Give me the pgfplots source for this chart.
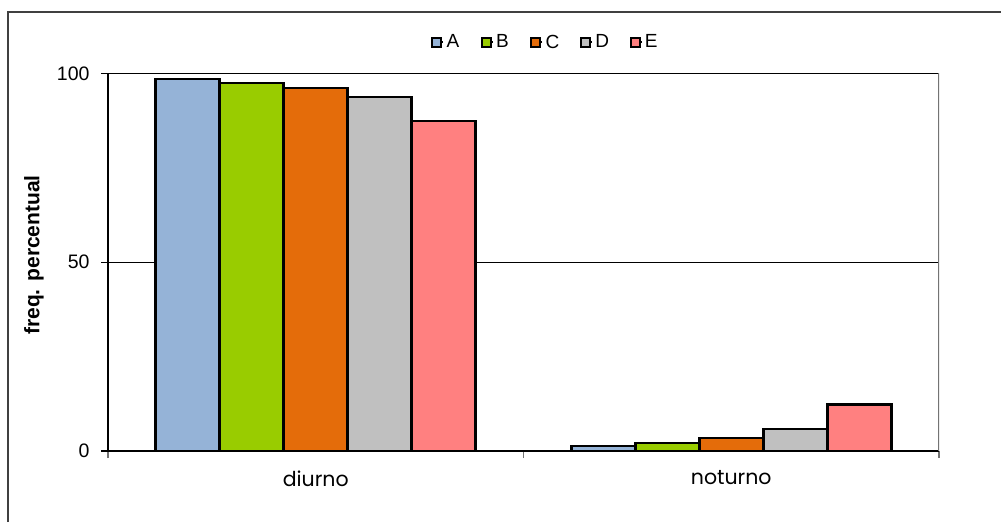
\documentclass[border=0pt]{standalone}
\usepackage{pgfplots}
\pgfplotsset{compat=1.18}
\usepackage{fontspec}
\setmainfont{Liberation Sans}
\newfontfamily\gothic{Poppins}
\definecolor{cA}{HTML}{95B3D7}
\definecolor{cB}{HTML}{99CC00}
\definecolor{cC}{HTML}{E46C0A}
\definecolor{cD}{HTML}{C0C0C0}
\definecolor{cE}{HTML}{FF8080}
\begin{document}
\begin{tikzpicture}[x=1pt,y=1pt]
\useasboundingbox (0,0) rectangle (1001,522);
\draw[line width=1.2pt, black!75] (8,0) -- (8,510) -- (1001,510);
\begin{axis}[
  at={(108pt,71pt)}, anchor=south west,
  scale only axis, width=831pt, height=377.5pt,
  ymin=0, ymax=100, xmin=-0.5, xmax=1.5,
  ybar=0pt, bar width=64pt,
  axis x line*=bottom, axis y line*=left,
  axis line style={black, line width=1.2pt},
  ytick={0,50,100},
  ymajorgrids, grid style={black, line width=1pt},
  tick align=outside, major tick length=7pt,
  xtick={-0.5,0.5,1.5}, x tick label as interval,
  xticklabels={diurno,noturno},
  x tick style={black!55, line width=1.2pt},
  y tick style={black, line width=1.2pt},
  xticklabel style={font=\gothic\fontsize{20.5}{20.5}\selectfont, yshift=-9pt},
  yticklabel style={font=\fontsize{19.5}{19.5}\selectfont, xshift=-8pt},
  /pgf/number format/assume math mode=true,
  legend columns=5,
  legend style={at={(0.527,1.083)}, anchor=center, draw=none, fill=none,
    font=\fontsize{19}{19}\selectfont,
    /tikz/every even column/.append style={column sep=18pt}},
  legend image code/.code={\path (0pt,0pt) -- (11pt,0pt);\draw[#1, draw=black, line width=2pt] (0pt,-4.5pt) rectangle (9pt,4.5pt);},
  every axis plot/.append style={draw=black, line width=2.6pt},
]
\addplot[fill=cA] coordinates {(0,98.5) (1,1.3)};
\addplot[fill=cB] coordinates {(0,97.5) (1,2.1)};
\addplot[fill=cC] coordinates {(0,96.2) (1,3.4)};
\addplot[fill=cD] coordinates {(0,93.8) (1,5.8)};
\addplot[fill=cE] coordinates {(0,87.4) (1,12.3)};
\legend{\makebox[14pt][l]{A},\makebox[14pt][l]{B},\makebox[14pt][l]{C},\makebox[14pt][l]{D},\makebox[14pt][l]{E}}
\draw[black!55, line width=1.2pt] (rel axis cs:1,0) -- (rel axis cs:1,1);
\end{axis}
\node[rotate=90, font=\bfseries\fontsize{21}{21}\selectfont] at (34,267) {freq. percentual};
\end{tikzpicture}
\end{document}
